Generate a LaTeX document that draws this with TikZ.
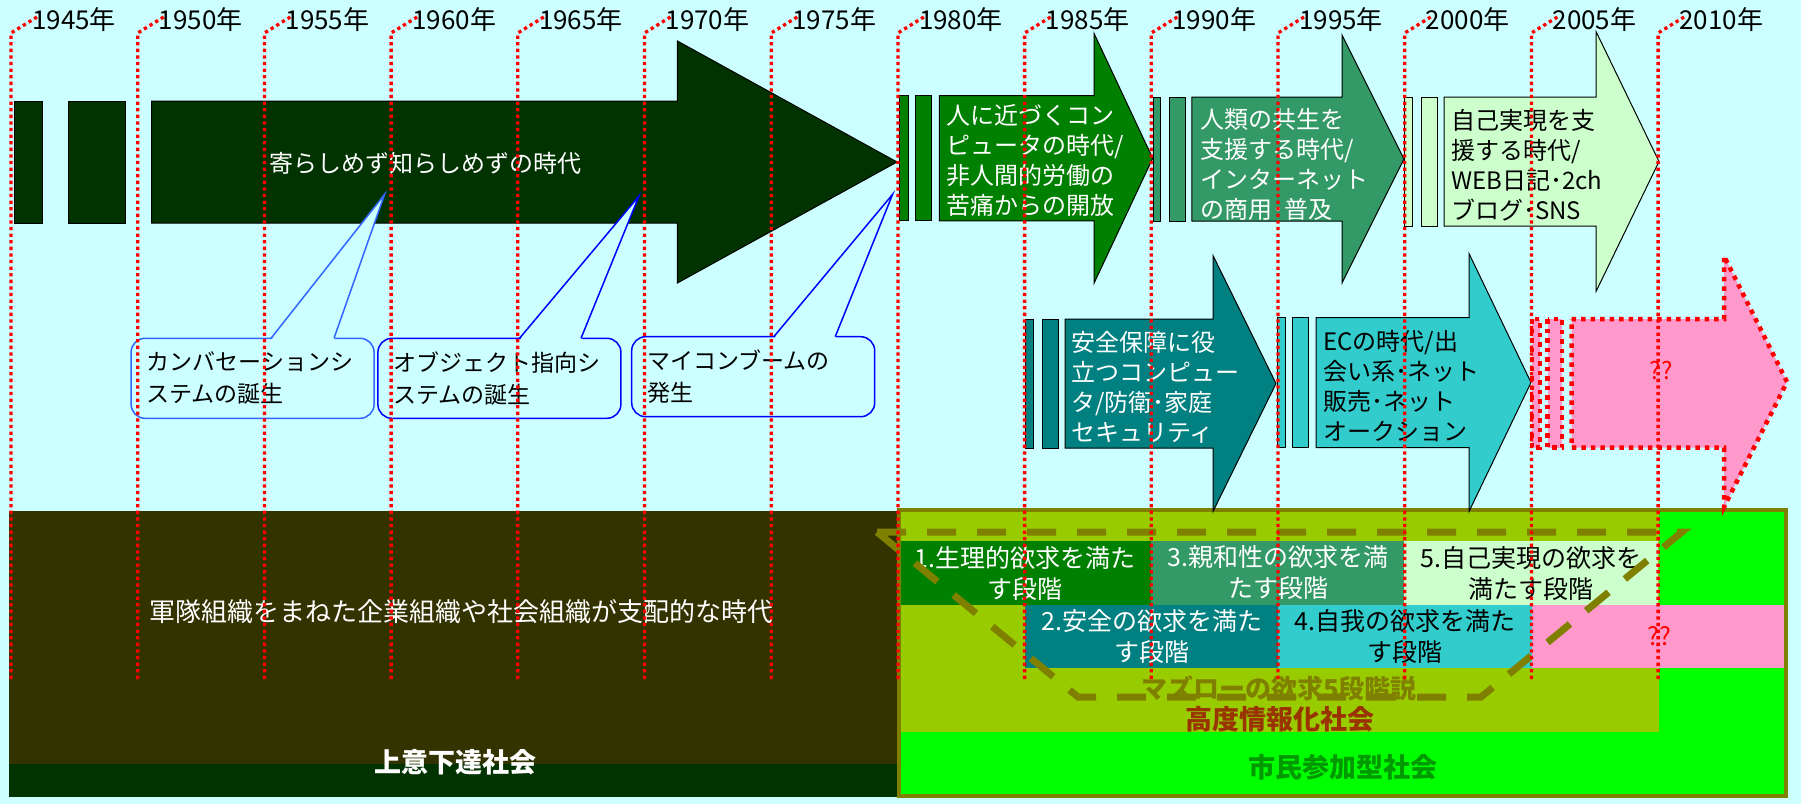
\documentclass[tikz,border=0pt]{standalone}
\usepackage{fontspec}
\setmainfont{Noto Sans CJK JP}
\usetikzlibrary{positioning}

\definecolor{skycyan}{HTML}{CCFFFF}
\definecolor{nightgreen}{HTML}{003300}
\definecolor{eragreen}{HTML}{008000}
\definecolor{seagreen}{HTML}{339966}
\definecolor{palegreen}{HTML}{CCFFCC}
\definecolor{tealblue}{HTML}{008080}
\definecolor{aquablue}{HTML}{33CCCC}
\definecolor{rosepink}{HTML}{FF99CC}
\definecolor{darkolive}{HTML}{333300}
\definecolor{mossolive}{HTML}{808000}
\definecolor{limeyellow}{HTML}{99CC00}
\definecolor{brightgreen}{HTML}{00FF00}
\definecolor{rustred}{HTML}{993300}
\definecolor{citygreen}{HTML}{009900}
\definecolor{callblue}{HTML}{3366FF}

\begin{document}
\begin{tikzpicture}[x=1pt,y=-1pt,
    every node/.style={inner sep=0pt,font=\fontsize{24}{30}\selectfont},
    blk/.style={draw=black,line width=1pt},
    reddots/.style={draw=red,line width=4.5pt,dash pattern=on 4.5pt off 5pt},
    yearline/.style={red,line width=3.3pt,dash pattern=on 3.3pt off 3.3pt},
    yearlab/.style={anchor=west,font=\fontsize{26}{26}\selectfont},
    arrtext/.style={anchor=west,align=left},
    callbox/.style={rounded corners=14pt,fill=skycyan,line width=1.5pt,
      text width=212pt,inner xsep=15.5pt,minimum height=80pt,align=left,
      font=\fontsize{23}{31.6}\selectfont},
    mbox/.style={minimum width=253.5pt,align=center,font=\fontsize{25}{31}\selectfont},
    society/.style={font=\fontsize{27}{27}\selectfont\bfseries}]

    \useasboundingbox (0,0) rectangle (1801,804);
    \fill[skycyan] (0,0) rectangle (1801,804);

    % Old society (left bottom)
    \fill[nightgreen] (9,511) rectangle (897,797);
    \fill[darkolive] (9,511) rectangle (897,764);
    \node[text=white,font=\fontsize{26}{26}\selectfont] (army) at (461,612)
      {軍隊組織をまねた企業組織や社会組織が支配的な時代};
    \node[society,text=white] (topdown) at (455,762) {上意下達社会};

    % New society (right bottom)
    \fill[brightgreen] (899,510) rectangle (1786,796);
    \fill[limeyellow] (901,512) rectangle (1659,732);

    % Maslow stages
    \node[mbox,fill=eragreen,text=white,minimum height=64pt] (m1) at (1025,573) {1.生理的欲求を満た\\す段階};
    \node[mbox,fill=seagreen,text=white,minimum height=64pt] (m3) at (1278,573) {3.親和性の欲求を満\\たす段階};
    \node[mbox,fill=palegreen,minimum height=64pt] (m5) at (1531,573) {5.自己実現の欲求を\\満たす段階};
    \node[mbox,fill=tealblue,text=white,minimum height=62.7pt] (m2) at (1152,636.3) {2.安全の欲求を満た\\す段階};
    \node[mbox,fill=aquablue,minimum height=62.7pt] (m4) at (1405,636.3) {4.自我の欲求を満た\\す段階};
    \node[mbox,fill=rosepink,text=red,minimum height=62.7pt,minimum width=254pt] (m6) at (1659,636.3) {??};
    \draw[mossolive,line width=4pt] (899,510) rectangle (1786,796);

    % Maslow outline
    \draw[mossolive,line width=7pt,dash pattern=on 29pt off 21pt]
      (877,532) -- (1682,532) -- (1481,697) -- (1078,697) -- cycle;
    \node[font=\fontsize{26}{26}\selectfont\bfseries,text=mossolive] (maslow) at (1279,688) {マズローの欲求5段階説};
    \node[society,text=rustred] (hightech) at (1280,719) {高度情報化社会};
    \node[society,text=citygreen] (citizen) at (1343,767) {市民参加型社会};

    % Era arrows
    \foreach \col/\ra/\rb/\rc/\rd/\bx/\sx/\ex/\yc/\hb/\hh in {
        nightgreen/14/42.7/68.3/125.7/151.7/677.4/897/162/61/121,
        eragreen/899.3/908.3/915/931/939.3/1094/1152.7/158.3/62.6/125,
        seagreen/1153/1160/1169/1185/1191.8/1342/1404/159/62/124,
        palegreen/1404/1412/1421/1437/1444/1596/1659/161.5/64.5/130,
        tealblue/1025/1033/1042/1058/1065/1213/1276/383.5/64.5/128,
        aquablue/1277/1285/1292/1308/1316/1469/1531/382.5/65/129} {
      \draw[blk,fill=\col] (\ra,\yc-\hb) rectangle (\rb,\yc+\hb);
      \draw[blk,fill=\col] (\rc,\yc-\hb) rectangle (\rd,\yc+\hb);
      \draw[blk,fill=\col] (\bx,\yc-\hb) -- (\sx,\yc-\hb) -- (\sx,\yc-\hh)
        -- (\ex,\yc) -- (\sx,\yc+\hh) -- (\sx,\yc+\hb) -- (\bx,\yc+\hb) -- cycle;
    }
    % Unknown future arrow
    \draw[reddots,fill=rosepink] (1532,319) rectangle (1540,447.7);
    \draw[reddots,fill=rosepink] (1547.7,319) rectangle (1562,447.7);
    \draw[reddots,fill=rosepink] (1571.7,319) -- (1724,319) -- (1724,256)
      -- (1787,382) -- (1724,507) -- (1724,447.7) -- (1571.7,447.7) -- cycle;

    \node[text=white] (era0) at (425,163) {寄らしめず知らしめずの時代};
    \node[arrtext,text=white] (eraA) at (946,160) {人に近づくコン\\ピュータの時代/\\非人間的労働の\\苦痛からの開放};
    \node[arrtext,text=white] (eraB) at (1200,164) {人類の共生を\\支援する時代/\\インターネット\\の商用･普及};
    \node[arrtext] (eraC) at (1451,165) {自己実現を支\\援する時代/\\WEB日記･2ch\\ブログ･SNS};
    \node[arrtext,text=white] (eraD) at (1071,387) {安全保障に役\\立つコンピュー\\タ/防衛･家庭\\セキュリティ};
    \node[arrtext] (eraE) at (1323,386.5) {ECの時代/出\\会い系･ネット\\販売･ネット\\オークション};
    \node[text=red] (eraF) at (1661,371) {??};

    % Callouts
    \coordinate (t1) at (384.6,194.3);
    \coordinate (p1a) at (271,338.3);
    \coordinate (p1b) at (334,338.3);
    \coordinate (t2) at (639,196);
    \coordinate (p2a) at (519.5,338.3);
    \coordinate (p2b) at (581,338.3);
    \coordinate (t3) at (892.6,194.3);
    \coordinate (p3a) at (773.8,336.7);
    \coordinate (p3b) at (835.2,336.7);

    \node[callbox,draw=callblue] (cb1) at (252.6,378.3) {カンバセーションシ\\ステムの誕生};
    \node[callbox,draw=blue] (cb2) at (499.4,378.3) {オブジェクト指向シ\\ステムの誕生};
    \node[callbox,draw=blue] (cb3) at (753.2,376.7) {マイコンブームの\\発生};

    \foreach \n/\col in {1/callblue,2/blue,3/blue} {
      \fill[skycyan] ([yshift=-2pt]p\n a) -- (t\n) -- ([yshift=-2pt]p\n b) -- cycle;
      \draw[\col,line width=1.5pt] (p\n a) -- (t\n) -- (p\n b);
    }

    % Year lines
    \foreach \i in {0,...,13} {
      \pgfmathsetmacro{\lx}{11+126.7*\i}
      \pgfmathtruncatemacro{\yr}{1945+5*\i}
      \draw[yearline] (\lx,679) -- (\lx,33) -- (\lx+26,17);
      \node[yearlab] (y\yr) at (\lx+21,20) {\yr 年};
    }

  \end{tikzpicture}
\end{document}
